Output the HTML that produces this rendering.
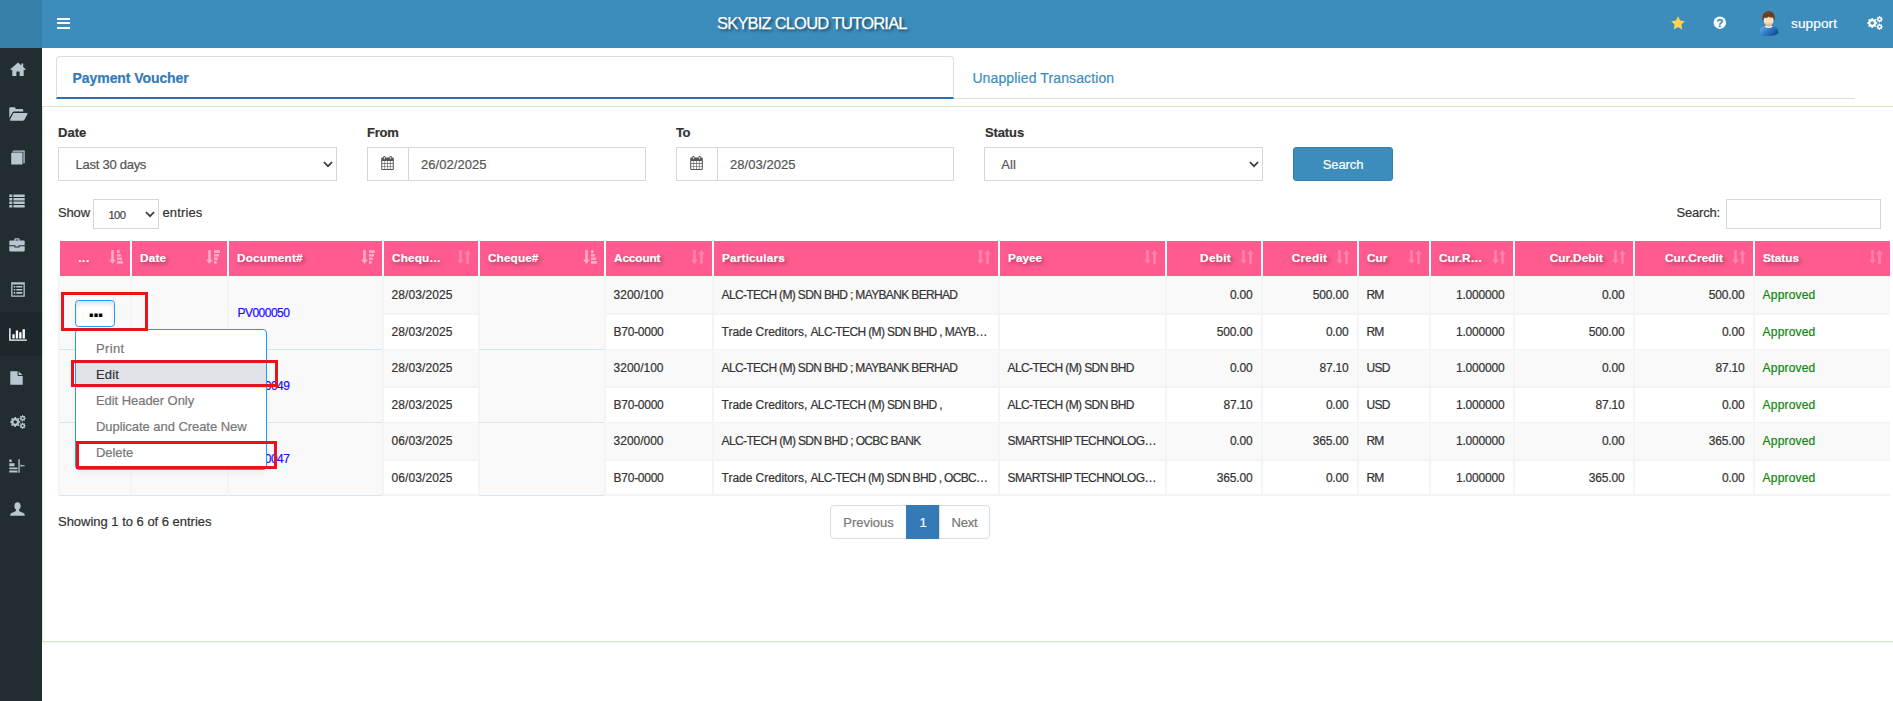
<!DOCTYPE html>
<html lang="en"><head><meta charset="utf-8"><title>Payment Voucher</title>
<style>
*{box-sizing:border-box}
html,body{margin:0;padding:0}
body{width:1893px;height:701px;overflow:hidden;background:#fff;font-family:"Liberation Sans",sans-serif;font-size:13px;color:#333;position:relative;-webkit-text-stroke:.2px currentColor}
.abs{position:absolute}
svg{display:block}
/* top bar */
.logo{position:absolute;left:0;top:0;width:42px;height:48px;background:#367fa9}
.navbar{position:absolute;left:42px;top:0;width:1851px;height:48px;background:#3c8dbc;color:#fff}
.burger{position:absolute;left:15px;top:18px;width:13px;height:11px}
.burger i{position:absolute;left:0;width:13px;height:2px;background:#fff;border-radius:.5px}
.title{position:absolute;left:675px;top:12px;-webkit-text-stroke:.25px #fff;font-size:16.5px;line-height:22px;white-space:nowrap;text-shadow:2px 2px 3px rgba(0,0,0,.55)}
.nav-r{position:absolute;top:0}
.uname{position:absolute;left:1749px;top:15px;font-size:13.6px;line-height:18px;white-space:nowrap}
/* sidebar */
.sidebar{position:absolute;left:0;top:48px;width:42px;height:653px;background:#222d32;margin:0;padding:0;list-style:none}
.sidebar .actbg{position:absolute;left:0;top:264px;width:42px;height:44px;background:#1e282c}
.sb-i{position:absolute;margin-top:-48px}
.sb-i svg{fill:#b8c7ce}
.sb-i.act svg{fill:#fff}
/* tabs */
.tabs{position:absolute;left:56px;top:56px;width:1799px;height:43px;border-bottom:1px solid #ddd;font-size:14px}
.tab1{position:absolute;left:0;top:0;width:898px;height:43px;border:1px solid #ddd;border-bottom:2px solid #2e6fb2;border-radius:4px 4px 0 0;background:#fff;color:#337ab7;font-weight:700}
.tab1 span.t{position:absolute;left:15.6px;top:12px;line-height:18px;white-space:nowrap}
.tab2{position:absolute;left:916.4px;top:12.9px;line-height:18px;color:#3c8dbc;white-space:nowrap}
/* panel */
.panel{position:absolute;left:42px;top:106px;width:1853px;height:536px;border:1px solid #d6e9c6;box-shadow:0 1px 1px rgba(0,0,0,.05)}
label{position:absolute;font-weight:700;font-size:13px;line-height:16px;color:#333;white-space:nowrap}
.fc{position:absolute;top:147px;height:34px;width:279px;border:1px solid #d2d6de;background:#fff;color:#555;font-size:13px}
.fc .v{position:absolute;top:8px;line-height:18px;white-space:nowrap}
.fc .chev{position:absolute;right:3.4px;top:12.6px}
.addon{position:absolute;left:0;top:0;width:41px;height:32px;border-right:1px solid #d2d6de}
.addon svg{position:absolute;left:12.8px;top:8.2px}
.btn-search{position:absolute;left:1293px;top:147px;width:100px;height:34px;background:#3c8dbc;border:1px solid #367fa9;border-radius:3px;color:#fff;font-size:13px;line-height:33.6px;text-align:center;padding:0;font-family:inherit}
.len{position:absolute;top:204px;line-height:18px;font-size:13px;white-space:nowrap}
.lensel{position:absolute;left:93px;top:199px;width:66px;height:30px;border:1px solid #d2d6de;background:#fff;font-size:11.2px;color:#444}
.lensel .v{position:absolute;left:14.4px;top:7.6px;line-height:14px}
.lensel .chev{position:absolute;right:3.4px;top:10.8px}
.filter{position:absolute;left:1726px;top:199px;width:155px;height:30px;border:1px solid #d2d6de;background:#fff}
/* table */
table.dt{position:absolute;left:58px;top:239px;border-collapse:separate;border-spacing:0;table-layout:fixed;width:1832px;font-size:12px}
table.dt th{height:38px;border-bottom:1px solid #f4f4f4 !important;background:#ff5b8f;background-clip:padding-box;border:2px solid #fff;border-right:0;border-bottom-width:0;color:#fff;font-weight:700;font-size:11.8px;text-align:left;padding:0 0 0 8px;position:relative;white-space:nowrap;text-shadow:2px 2px 4px rgba(0,0,0,.42);overflow:hidden}
table.dt th.r{text-align:right;padding-right:30px}
table.dt th .si{position:absolute;right:7.4px;top:9.1px}
table.dt th .ht{position:relative;top:-1px}
table.dt th.c{text-align:center;padding-right:30px}
table.dt td{height:35px;padding:0 8px 0 7.6px;border-bottom:1px solid #f4f4f4;border-left:2px solid #f4f4f4;vertical-align:middle;white-space:nowrap;overflow:hidden;color:#333;line-height:18px}
table.dt td.r{text-align:right;padding-right:8.6px}
table.dt tr.odd td{background:#f9f9f9;height:38px;border-bottom-width:2px}
table.dt tr.even td{background:#fff}
table.dt td.grp{background:#f9f9f9 !important;border-bottom:1px solid #cfe7fb !important}
table.dt tr:last-child td{border-bottom-width:2px}
table.dt td.ok{color:#0c860c}
a.doc{color:#1a0dff;font-size:12px;letter-spacing:-.5px;position:relative;top:.4px;left:.8px}
button.dots{position:relative;display:block;left:7px;top:.5px;width:40px;height:27px;border:1px solid #1e9bff;border-radius:3.5px;background:#fff;box-shadow:inset 0 3px 5px rgba(0,0,0,.125);padding:0;font-family:inherit;font-size:22px;line-height:14px;color:#000;overflow:hidden}
button.dots b{position:absolute;left:12.6px;top:2px;letter-spacing:-1.4px}
/* dropdown */
.dd{position:absolute;left:75px;top:329px;width:192px;height:141px;background:#fff;border:1px solid #1e9bff;border-radius:4px;font-size:13px;color:#777;margin:0;padding:0;list-style:none;box-shadow:0 3px 6px rgba(0,0,0,.04)}
.dd li{position:absolute;left:0;width:190px;height:26px;line-height:26px;padding-left:20px;white-space:nowrap}
.dd li.hov{background:#e1e3e9;color:#333}
.redbox{position:absolute;border:3px solid #e8141c;z-index:5}
/* footer */
.info{position:absolute;left:58px;top:512.7px;line-height:18px;font-size:13px;white-space:nowrap}
.pag{position:absolute;left:830px;top:505px;height:34px;display:flex;font-size:13px;color:#777;margin:0;padding:0;list-style:none}
.pag li{height:34px;line-height:33.6px;border:1px solid #ddd;background:#fff;text-align:center;white-space:nowrap}
.pag li.p{width:77px;border-radius:4px 0 0 4px}
.pag li.a{width:34px;background:#337ab7;border-color:#337ab7;color:#fff;margin-left:-1px}
.pag li.n{width:51px;border-radius:0 4px 4px 0;margin-left:-1px}
</style></head>
<body>
<div class="logo"></div>
<header class="navbar">
  <a class="burger"><i style="top:0"></i><i style="top:4.3px"></i><i style="top:8.6px"></i></a>
  <div class="title"><span style="letter-spacing:-0.805px;">SKYBIZ CLOUD TUTORIAL</span></div>
  <div class="nav-r" style="left:1628.5px;top:15.5px"><svg viewBox="0 0 14 14" width="14" height="14"><path fill="#ffd54f" d="M7 0.3 L9.1 4.6 L13.8 5.3 L10.4 8.6 L11.2 13.4 L7 11.1 L2.8 13.4 L3.6 8.6 L0.2 5.3 L4.9 4.6 Z"/></svg></div>
  <div class="nav-r" style="left:1671.4px;top:16.4px"><svg viewBox="0 0 13 13" width="13" height="13" style="overflow:visible"><circle cx="6.8" cy="6.7" r="6.25" fill="#fff"/><text x="7" y="10.9" text-anchor="middle" font-family="Liberation Sans, sans-serif" font-weight="700" font-size="11.2" fill="#3c8dbc" stroke="#3c8dbc" stroke-width=".3">?</text></svg></div>
  <div class="nav-r" style="left:1716.8px;top:10.6px"><svg viewBox="0 0 20 25" width="20" height="25"><defs><linearGradient id="sh" x1="0" y1="0" x2="1" y2="0.6"><stop offset="0" stop-color="#7db9ee"/><stop offset="0.45" stop-color="#3a86d0"/><stop offset="1" stop-color="#134f98"/></linearGradient><linearGradient id="fc" x1="0" y1="0" x2="0" y2="1"><stop offset="0" stop-color="#f3cfa2"/><stop offset="0.6" stop-color="#fae6cd"/><stop offset="1" stop-color="#e2ad7c"/></linearGradient></defs><ellipse cx="10" cy="24.2" rx="7" ry="0.7" fill="#1f4f80" opacity=".5"/><path fill="url(#sh)" d="M0.6 21.4 C0.6 17.4 3.5 15.2 6.6 14.9 L10 16.6 L13.4 14.9 C16.5 15.2 19.4 17.4 19.4 21.4 C19.4 23.4 15 24.4 10 24.4 C5 24.4 0.6 23.4 0.6 21.4 Z"/><path fill="#d9a06c" d="M7.2 12.4 H12 L12.6 15.4 L9.6 16.6 L6.6 15.4 Z"/><path fill="#fff" d="M5.8 15.3 L7 14.5 C8 16 11.4 16 12.4 14.5 L13.6 15.3 C12.6 17.6 6.8 17.6 5.8 15.3 Z"/><ellipse cx="9.6" cy="9.4" rx="4.9" ry="5.6" fill="url(#fc)"/><path fill="#6a3a1b" d="M3.9 10.6 C2.4 5.4 4.4 0.3 9.8 0.3 C14.8 0.3 16.6 4.8 15.3 10.6 C15.1 8.6 14.6 7 13.6 6.2 C12 7 10.6 6.4 9.8 5.4 C8.8 6.8 6.8 7 5.5 6.6 C4.6 7.6 4.2 8.8 3.9 10.6 Z"/><path fill="#8a5a33" opacity=".7" d="M6 3.2 C7.4 1.4 11 1 13 2.8 C11 2.2 8 2.4 6 3.2 Z"/></svg></div>
  <div class="uname"><span style="letter-spacing:0.108px;">support</span></div>
  <div class="nav-r" style="left:1824.8px;top:15.8px"><svg fill="#fff" viewBox="0 0 16 14" width="16" height="14"><path fill-rule="evenodd" d="M10.27 6.45 L10.27 7.55 L8.92 8.17 L8.66 8.80 L9.17 10.20 L8.40 10.97 L7.00 10.46 L6.37 10.72 L5.75 12.07 L4.65 12.07 L4.03 10.72 L3.40 10.46 L2.00 10.97 L1.23 10.20 L1.74 8.80 L1.48 8.17 L0.13 7.55 L0.13 6.45 L1.48 5.83 L1.74 5.20 L1.23 3.80 L2.00 3.03 L3.40 3.54 L4.03 3.28 L4.65 1.93 L5.75 1.93 L6.37 3.28 L7.00 3.54 L8.40 3.03 L9.17 3.80 L8.66 5.20 L8.92 5.83 Z M7.00 7.00 A1.8 1.8 0 1 0 3.40 7.00 A1.8 1.8 0 1 0 7.00 7.00 Z"/><path fill-rule="evenodd" d="M15.78 2.96 L15.78 3.64 L14.79 3.99 L14.64 4.36 L15.09 5.31 L14.61 5.79 L13.66 5.34 L13.29 5.49 L12.94 6.48 L12.26 6.48 L11.91 5.49 L11.54 5.34 L10.59 5.79 L10.11 5.31 L10.56 4.36 L10.41 3.99 L9.42 3.64 L9.42 2.96 L10.41 2.61 L10.56 2.24 L10.11 1.29 L10.59 0.81 L11.54 1.26 L11.91 1.11 L12.26 0.12 L12.94 0.12 L13.29 1.11 L13.66 1.26 L14.61 0.81 L15.09 1.29 L14.64 2.24 L14.79 2.61 Z M13.60 3.30 A1.0 1.0 0 1 0 11.60 3.30 A1.0 1.0 0 1 0 13.60 3.30 Z"/><path fill-rule="evenodd" d="M15.78 10.36 L15.78 11.04 L14.79 11.39 L14.64 11.76 L15.09 12.71 L14.61 13.19 L13.66 12.74 L13.29 12.89 L12.94 13.88 L12.26 13.88 L11.91 12.89 L11.54 12.74 L10.59 13.19 L10.11 12.71 L10.56 11.76 L10.41 11.39 L9.42 11.04 L9.42 10.36 L10.41 10.01 L10.56 9.64 L10.11 8.69 L10.59 8.21 L11.54 8.66 L11.91 8.51 L12.26 7.52 L12.94 7.52 L13.29 8.51 L13.66 8.66 L14.61 8.21 L15.09 8.69 L14.64 9.64 L14.79 10.01 Z M13.60 10.70 A1.0 1.0 0 1 0 11.60 10.70 A1.0 1.0 0 1 0 13.60 10.70 Z"/></svg></div>
</header>
<ul class="sidebar"><li class="actbg"></li>
<li class="sb-i" style="left:9.6px;top:61.5px"><svg viewBox="0 0 16 15" width="16" height="15"><path d="M8 0.6 L0.3 7.3 L1.2 8.3 L2.3 7.4 V14 H6.4 V9.6 H9.6 V14 H13.7 V7.4 L14.8 8.3 L15.7 7.3 L13.2 5.1 V1.6 H11.4 V3.5 Z"/></svg></li>
<li class="sb-i" style="left:9.4px;top:106.6px"><svg viewBox="0 0 19 14" width="19" height="14"><path d="M0.3 1.6 Q0.3 0.3 1.6 0.3 H5.3 Q6.4 0.3 6.6 1.4 L6.8 2.1 H13 Q14.3 2.1 14.3 3.4 V4.6 H5.2 Q3.9 4.6 3.3 5.8 L0.3 11.2 Z"/><path d="M4.9 6 H18 Q19 6 18.4 7 L15.6 12.6 Q15.1 13.7 13.9 13.7 H1.6 Q0.6 13.7 1.1 12.8 L3.9 7 Q4.3 6 4.9 6 Z"/></svg></li>
<li class="sb-i" style="left:10.6px;top:149.5px"><svg viewBox="0 0 14 15" width="14" height="15"><path d="M2.4 0.5 H13.7 V13.2 H12.4 V1.7 H1.2 Z"/><path d="M0.2 3.3 L1.3 2.5 H11.5 V14.6 H0.2 Z"/></svg></li>
<li class="sb-i" style="left:9.3px;top:194.4px"><svg viewBox="0 0 16 14" width="16" height="14"><path d="M0.3 0.4h3v2.6h-3z M4.4 0.4h11.3v2.6H4.4z M0.3 3.9h3v2.6h-3z M4.4 3.9h11.3v2.6H4.4z M0.3 7.4h3v2.6h-3z M4.4 7.4h11.3v2.6H4.4z M0.3 10.9h3v2.6h-3z M4.4 10.9h11.3v2.6H4.4z"/></svg></li>
<li class="sb-i" style="left:9.3px;top:237.6px"><svg viewBox="0 0 16 14" width="16" height="14"><path fill-rule="evenodd" d="M5.4 2.4 V1.2 Q5.4 0.3 6.3 0.3 H9.7 Q10.6 0.3 10.6 1.2 V2.4 H14.6 Q15.7 2.4 15.7 3.5 V7.2 H9.6 V8.4 H6.4 V7.2 H0.3 V3.5 Q0.3 2.4 1.4 2.4 Z M6.6 2.4 H9.4 V1.5 H6.6 Z"/><path d="M0.3 8.2 H5.4 V9.5 H10.6 V8.2 H15.7 V12.4 Q15.7 13.5 14.6 13.5 H1.4 Q0.3 13.5 0.3 12.4 Z"/></svg></li>
<li class="sb-i" style="left:10.6px;top:281.5px"><svg viewBox="0 0 14 15" width="14" height="15"><path fill-rule="evenodd" d="M0.2 0.3 H13.8 V14.7 H0.2 Z M1.5 2.4 V13.4 H12.5 V2.4 Z"/><path d="M2.7 3.9h1.6v1.6H2.7z M5.3 3.9h6v1.6h-6z M2.7 7h1.6v1.6H2.7z M5.3 7h6v1.6h-6z M2.7 10.1h1.6v1.6H2.7z M5.3 10.1h6v1.6h-6z"/></svg></li>
<li class="sb-i act" style="left:9px;top:327.5px"><svg viewBox="0 0 18 13" width="18" height="13"><path d="M0.2 0.2 H1.6 V11.4 H17.8 V12.8 H0.2 Z"/><path d="M3.4 6.2h2.3v4.2H3.4z M6.8 2.6h2.3v7.8H6.8z M10.2 4.3h2.3v6.1h-2.3z M13.6 1.2h2.3v9.2h-2.3z"/></svg></li>
<li class="sb-i" style="left:9.8px;top:371.0px"><svg viewBox="0 0 13 14" width="13" height="14"><path d="M0.3 0.3 H7.6 V4.2 Q7.6 5 8.4 5 H12.7 V13.7 H0.3 Z"/><path d="M8.6 0.4 L12.6 4 H8.6 Z"/></svg></li>
<li class="sb-i" style="left:9.6px;top:414.8px"><svg viewBox="0 0 16 14" width="16" height="14"><path fill-rule="evenodd" d="M10.27 6.45 L10.27 7.55 L8.92 8.17 L8.66 8.80 L9.17 10.20 L8.40 10.97 L7.00 10.46 L6.37 10.72 L5.75 12.07 L4.65 12.07 L4.03 10.72 L3.40 10.46 L2.00 10.97 L1.23 10.20 L1.74 8.80 L1.48 8.17 L0.13 7.55 L0.13 6.45 L1.48 5.83 L1.74 5.20 L1.23 3.80 L2.00 3.03 L3.40 3.54 L4.03 3.28 L4.65 1.93 L5.75 1.93 L6.37 3.28 L7.00 3.54 L8.40 3.03 L9.17 3.80 L8.66 5.20 L8.92 5.83 Z M7.00 7.00 A1.8 1.8 0 1 0 3.40 7.00 A1.8 1.8 0 1 0 7.00 7.00 Z"/><path fill-rule="evenodd" d="M15.78 2.96 L15.78 3.64 L14.79 3.99 L14.64 4.36 L15.09 5.31 L14.61 5.79 L13.66 5.34 L13.29 5.49 L12.94 6.48 L12.26 6.48 L11.91 5.49 L11.54 5.34 L10.59 5.79 L10.11 5.31 L10.56 4.36 L10.41 3.99 L9.42 3.64 L9.42 2.96 L10.41 2.61 L10.56 2.24 L10.11 1.29 L10.59 0.81 L11.54 1.26 L11.91 1.11 L12.26 0.12 L12.94 0.12 L13.29 1.11 L13.66 1.26 L14.61 0.81 L15.09 1.29 L14.64 2.24 L14.79 2.61 Z M13.60 3.30 A1.0 1.0 0 1 0 11.60 3.30 A1.0 1.0 0 1 0 13.60 3.30 Z"/><path fill-rule="evenodd" d="M15.78 10.36 L15.78 11.04 L14.79 11.39 L14.64 11.76 L15.09 12.71 L14.61 13.19 L13.66 12.74 L13.29 12.89 L12.94 13.88 L12.26 13.88 L11.91 12.89 L11.54 12.74 L10.59 13.19 L10.11 12.71 L10.56 11.76 L10.41 11.39 L9.42 11.04 L9.42 10.36 L10.41 10.01 L10.56 9.64 L10.11 8.69 L10.59 8.21 L11.54 8.66 L11.91 8.51 L12.26 7.52 L12.94 7.52 L13.29 8.51 L13.66 8.66 L14.61 8.21 L15.09 8.69 L14.64 9.64 L14.79 10.01 Z M13.60 10.70 A1.0 1.0 0 1 0 11.60 10.70 A1.0 1.0 0 1 0 13.60 10.70 Z"/></svg></li>
<li class="sb-i" style="left:9.4px;top:458.6px"><svg viewBox="0 0 16 14" width="16" height="14"><path d="M0.3 0.6h2.4v2.4H0.3z M0.3 4.2h5.2v3H0.3z M0.3 8.6h8.2v1.6H0.3z M0.3 11.6h8.2v1.8H0.3z M9.4 0.2h1.3v13.6H9.4z M11.4 6.3h4.3v0.9h-4.3z M12.6 5.2v3.1l-1.6-1.55z"/></svg></li>
<li class="sb-i" style="left:9.6px;top:501.8px"><svg viewBox="0 0 15 14" width="15" height="14"><path d="M7.5 0.2 C9.6 0.2 10.6 1.8 10.6 3.9 C10.6 5.6 9.9 7 9 7.7 V8.5 C9 9 9.3 9.2 10 9.5 L13.4 10.9 C14.4 11.4 14.8 12.2 14.8 13.8 H0.2 C0.2 12.2 0.6 11.4 1.6 10.9 L5 9.5 C5.7 9.2 6 9 6 8.5 V7.7 C5.1 7 4.4 5.6 4.4 3.9 C4.4 1.8 5.4 0.2 7.5 0.2 Z"/></svg></li>
</ul>

<div class="tabs">
  <div class="tab1"><span class="t"><span style="letter-spacing:-0.076px;">Payment Voucher</span></span></div>
  <div class="tab2"><span style="letter-spacing:0.123px;">Unapplied Transaction</span></div>
</div>
<section class="panel"></section>

<label style="left:58px;top:125px"><span style="letter-spacing:0.028px;">Date</span></label>
<label style="left:367px;top:125px"><span style="letter-spacing:-0.250px;">From</span></label>
<label style="left:676px;top:125px"><span style="letter-spacing:-0.461px;">To</span></label>
<label style="left:985px;top:125px"><span style="letter-spacing:-0.122px;">Status</span></label>
<div class="fc" style="left:58px"><span class="v" style="left:16.6px"><span style="letter-spacing:-0.268px;">Last 30 days</span></span><span class="chev"><svg viewBox="0 0 10 7" width="10" height="7"><path fill="none" stroke="#3a3a3a" stroke-width="1.7" d="M0.9 1 L5 5.2 L9.1 1"/></svg></span></div>
<div class="fc" style="left:367px"><span class="addon"><svg viewBox="0 0 13 14" width="13" height="14"><path fill-rule="evenodd" fill="#555" d="M0.2 2.6 Q0.2 1.6 1.2 1.6 H2.2 V1 Q2.2 0.1 3.1 0.1 H3.5 Q4.4 0.1 4.4 1 V1.6 H8.6 V1 Q8.6 0.1 9.5 0.1 H9.9 Q10.8 0.1 10.8 1 V1.6 H11.8 Q12.8 1.6 12.8 2.6 V12.9 Q12.8 13.9 11.8 13.9 H1.2 Q0.2 13.9 0.2 12.9 Z M1.2 5 V7.1 H3.5 V5 Z M4.1 5 V7.1 H6.2 V5 Z M6.8 5 V7.1 H8.9 V5 Z M9.5 5 V7.1 H11.8 V5 Z M1.2 7.7 V10 H3.5 V7.7 Z M4.1 7.7 V10 H6.2 V7.7 Z M6.8 7.7 V10 H8.9 V7.7 Z M9.5 7.7 V10 H11.8 V7.7 Z M1.2 10.6 V12.9 H3.5 V10.6 Z M4.1 10.6 V12.9 H6.2 V10.6 Z M6.8 10.6 V12.9 H8.9 V10.6 Z M9.5 10.6 V12.9 H11.8 V10.6 Z M2.9 0.9 V3.3 H3.7 V0.9 Z M9.3 0.9 V3.3 H10.1 V0.9 Z"/></svg></span><span class="v" style="left:53px"><span style="letter-spacing:0.042px;">26/02/2025</span></span></div>
<div class="fc" style="left:676px;width:278px"><span class="addon"><svg viewBox="0 0 13 14" width="13" height="14"><path fill-rule="evenodd" fill="#555" d="M0.2 2.6 Q0.2 1.6 1.2 1.6 H2.2 V1 Q2.2 0.1 3.1 0.1 H3.5 Q4.4 0.1 4.4 1 V1.6 H8.6 V1 Q8.6 0.1 9.5 0.1 H9.9 Q10.8 0.1 10.8 1 V1.6 H11.8 Q12.8 1.6 12.8 2.6 V12.9 Q12.8 13.9 11.8 13.9 H1.2 Q0.2 13.9 0.2 12.9 Z M1.2 5 V7.1 H3.5 V5 Z M4.1 5 V7.1 H6.2 V5 Z M6.8 5 V7.1 H8.9 V5 Z M9.5 5 V7.1 H11.8 V5 Z M1.2 7.7 V10 H3.5 V7.7 Z M4.1 7.7 V10 H6.2 V7.7 Z M6.8 7.7 V10 H8.9 V7.7 Z M9.5 7.7 V10 H11.8 V7.7 Z M1.2 10.6 V12.9 H3.5 V10.6 Z M4.1 10.6 V12.9 H6.2 V10.6 Z M6.8 10.6 V12.9 H8.9 V10.6 Z M9.5 10.6 V12.9 H11.8 V10.6 Z M2.9 0.9 V3.3 H3.7 V0.9 Z M9.3 0.9 V3.3 H10.1 V0.9 Z"/></svg></span><span class="v" style="left:53px"><span style="letter-spacing:0.042px;">28/03/2025</span></span></div>
<div class="fc" style="left:984px"><span class="v" style="left:16.2px"><span style="letter-spacing:0.182px;">All</span></span><span class="chev"><svg viewBox="0 0 10 7" width="10" height="7"><path fill="none" stroke="#3a3a3a" stroke-width="1.7" d="M0.9 1 L5 5.2 L9.1 1"/></svg></span></div>
<button class="btn-search" type="button"><span style="letter-spacing:-0.117px;">Search</span></button>

<div class="len" style="left:58px"><span style="letter-spacing:-0.158px;">Show</span></div>
<div class="lensel"><span class="v"><span style="letter-spacing:-0.524px;">100</span></span><span class="chev"><svg viewBox="0 0 10 7" width="10" height="7"><path fill="none" stroke="#3a3a3a" stroke-width="1.7" d="M0.9 1 L5 5.2 L9.1 1"/></svg></span></div>
<div class="len" style="left:162.5px"><span style="letter-spacing:0.138px;">entries</span></div>
<div class="len" style="left:1676.6px"><span style="letter-spacing:-0.216px;">Search:</span></div>
<div class="filter"></div>

<table class="dt"><colgroup><col style="width:72px"><col style="width:97px"><col style="width:155px"><col style="width:96px"><col style="width:126px"><col style="width:108px"><col style="width:286px"><col style="width:167px"><col style="width:96px"><col style="width:96px"><col style="width:72px"><col style="width:84px"><col style="width:120px"><col style="width:120px"><col style="width:137px"></colgroup>
<thead><tr><th class="c"><span style="letter-spacing:0.552px;position:relative;top:-1px">...</span><svg class="si" style="opacity:.5" viewBox="0 0 14 14" width="14" height="14"><path fill="#fff" d="M2.2 0.3h2.6v9.4h2.1L3.5 13.7 0.1 9.7h2.1z M8 0.3h2.6v2.6H8z M8 3.9h3.8v2.6H8z M8 7.5h5v2.6H8z M8 11.1h5.9v2.6H8z"/></svg></th><th class=""><span style="letter-spacing:0.155px;position:relative;top:-1px">Date</span><svg class="si" style="opacity:.5" viewBox="0 0 14 14" width="14" height="14"><path fill="#fff" d="M2.2 0.3h2.6v9.4h2.1L3.5 13.7 0.1 9.7h2.1z M8 0.3h5.9v2.6H8z M8 3.9h5v2.6H8z M8 7.5h3.8v2.6H8z M8 11.1h2.6v2.6H8z"/></svg></th><th class=""><span style="letter-spacing:0.172px;position:relative;top:-1px">Document#</span><svg class="si" style="opacity:.5" viewBox="0 0 14 14" width="14" height="14"><path fill="#fff" d="M2.2 0.3h2.6v9.4h2.1L3.5 13.7 0.1 9.7h2.1z M8 0.3h5.9v2.6H8z M8 3.9h5v2.6H8z M8 7.5h3.8v2.6H8z M8 11.1h2.6v2.6H8z"/></svg></th><th class=""><span style="letter-spacing:0.117px;position:relative;top:-1px">Chequ…</span><svg class="si" style="opacity:.25" viewBox="0 0 14 14" width="14" height="14"><path fill="#fff" d="M2.2 0.3h2.6v9.4h2.1L3.5 13.7 0.1 9.7h2.1z M9.2 13.7h2.6V4.3h2.1L10.5 0.3 7.1 4.3h2.1z"/></svg></th><th class=""><span style="letter-spacing:0.096px;position:relative;top:-1px">Cheque#</span><svg class="si" style="opacity:.5" viewBox="0 0 14 14" width="14" height="14"><path fill="#fff" d="M2.2 0.3h2.6v9.4h2.1L3.5 13.7 0.1 9.7h2.1z M8 0.3h2.6v2.6H8z M8 3.9h3.8v2.6H8z M8 7.5h5v2.6H8z M8 11.1h5.9v2.6H8z"/></svg></th><th class=""><span style="letter-spacing:-0.115px;position:relative;top:-1px">Account</span><svg class="si" style="opacity:.25" viewBox="0 0 14 14" width="14" height="14"><path fill="#fff" d="M2.2 0.3h2.6v9.4h2.1L3.5 13.7 0.1 9.7h2.1z M9.2 13.7h2.6V4.3h2.1L10.5 0.3 7.1 4.3h2.1z"/></svg></th><th class=""><span style="letter-spacing:0.174px;position:relative;top:-1px">Particulars</span><svg class="si" style="opacity:.25" viewBox="0 0 14 14" width="14" height="14"><path fill="#fff" d="M2.2 0.3h2.6v9.4h2.1L3.5 13.7 0.1 9.7h2.1z M9.2 13.7h2.6V4.3h2.1L10.5 0.3 7.1 4.3h2.1z"/></svg></th><th class=""><span style="letter-spacing:0.015px;position:relative;top:-1px">Payee</span><svg class="si" style="opacity:.25" viewBox="0 0 14 14" width="14" height="14"><path fill="#fff" d="M2.2 0.3h2.6v9.4h2.1L3.5 13.7 0.1 9.7h2.1z M9.2 13.7h2.6V4.3h2.1L10.5 0.3 7.1 4.3h2.1z"/></svg></th><th class="r"><span style="letter-spacing:0.280px;position:relative;top:-1px">Debit</span><svg class="si" style="opacity:.25" viewBox="0 0 14 14" width="14" height="14"><path fill="#fff" d="M2.2 0.3h2.6v9.4h2.1L3.5 13.7 0.1 9.7h2.1z M9.2 13.7h2.6V4.3h2.1L10.5 0.3 7.1 4.3h2.1z"/></svg></th><th class="r"><span style="letter-spacing:0.184px;position:relative;top:-1px">Credit</span><svg class="si" style="opacity:.25" viewBox="0 0 14 14" width="14" height="14"><path fill="#fff" d="M2.2 0.3h2.6v9.4h2.1L3.5 13.7 0.1 9.7h2.1z M9.2 13.7h2.6V4.3h2.1L10.5 0.3 7.1 4.3h2.1z"/></svg></th><th class=""><span style="letter-spacing:-0.043px;position:relative;top:-1px">Cur</span><svg class="si" style="opacity:.25" viewBox="0 0 14 14" width="14" height="14"><path fill="#fff" d="M2.2 0.3h2.6v9.4h2.1L3.5 13.7 0.1 9.7h2.1z M9.2 13.7h2.6V4.3h2.1L10.5 0.3 7.1 4.3h2.1z"/></svg></th><th class=""><span style="letter-spacing:0.022px;position:relative;top:-1px">Cur.R…</span><svg class="si" style="opacity:.25" viewBox="0 0 14 14" width="14" height="14"><path fill="#fff" d="M2.2 0.3h2.6v9.4h2.1L3.5 13.7 0.1 9.7h2.1z M9.2 13.7h2.6V4.3h2.1L10.5 0.3 7.1 4.3h2.1z"/></svg></th><th class="r"><span style="letter-spacing:0.096px;position:relative;top:-1px">Cur.Debit</span><svg class="si" style="opacity:.25" viewBox="0 0 14 14" width="14" height="14"><path fill="#fff" d="M2.2 0.3h2.6v9.4h2.1L3.5 13.7 0.1 9.7h2.1z M9.2 13.7h2.6V4.3h2.1L10.5 0.3 7.1 4.3h2.1z"/></svg></th><th class="r"><span style="letter-spacing:0.097px;position:relative;top:-1px">Cur.Credit</span><svg class="si" style="opacity:.25" viewBox="0 0 14 14" width="14" height="14"><path fill="#fff" d="M2.2 0.3h2.6v9.4h2.1L3.5 13.7 0.1 9.7h2.1z M9.2 13.7h2.6V4.3h2.1L10.5 0.3 7.1 4.3h2.1z"/></svg></th><th class=""><span style="letter-spacing:-0.010px;position:relative;top:-1px">Status</span><svg class="si" style="opacity:.25" viewBox="0 0 14 14" width="14" height="14"><path fill="#fff" d="M2.2 0.3h2.6v9.4h2.1L3.5 13.7 0.1 9.7h2.1z M9.2 13.7h2.6V4.3h2.1L10.5 0.3 7.1 4.3h2.1z"/></svg></th></tr></thead>
<tbody>
<tr class="odd"><td rowspan="2" class="grp"><button class="dots" type="button"><b>...</b></button></td><td rowspan="2" class="grp"></td><td rowspan="2" class="grp"><a class="doc">PV000050</a></td><td><span style="letter-spacing:0.074px;">28/03/2025</span></td><td rowspan="2" class="grp"></td><td><span style="letter-spacing:-0.020px;">3200/100</span></td><td><span style="letter-spacing:-0.649px;">ALC-TECH (M) SDN BHD ; MAYBANK BERHAD</span></td><td></td><td class="r"><span style="letter-spacing:-0.215px;">0.00</span></td><td class="r"><span style="letter-spacing:-0.167px;">500.00</span></td><td><span style="letter-spacing:-1.086px;">RM</span></td><td class="r"><span style="letter-spacing:-0.208px;">1.000000</span></td><td class="r"><span style="letter-spacing:-0.215px;">0.00</span></td><td class="r"><span style="letter-spacing:-0.167px;">500.00</span></td><td class="ok"><span style="letter-spacing:0.178px;">Approved</span></td></tr>
<tr class="even"><td><span style="letter-spacing:0.074px;">28/03/2025</span></td><td><span style="letter-spacing:-0.268px;">B70-0000</span></td><td><span style="letter-spacing:-0.041px">Trade Creditors, </span><span style="letter-spacing:-0.625px">ALC-TECH (M) SDN BHD , MAYB…</span></td><td></td><td class="r"><span style="letter-spacing:-0.167px;">500.00</span></td><td class="r"><span style="letter-spacing:-0.215px;">0.00</span></td><td><span style="letter-spacing:-1.086px;">RM</span></td><td class="r"><span style="letter-spacing:-0.208px;">1.000000</span></td><td class="r"><span style="letter-spacing:-0.167px;">500.00</span></td><td class="r"><span style="letter-spacing:-0.215px;">0.00</span></td><td class="ok"><span style="letter-spacing:0.178px;">Approved</span></td></tr>
<tr class="odd"><td rowspan="2" class="grp"></td><td rowspan="2" class="grp"></td><td rowspan="2" class="grp"><a class="doc">PV000049</a></td><td><span style="letter-spacing:0.074px;">28/03/2025</span></td><td rowspan="2" class="grp"></td><td><span style="letter-spacing:-0.020px;">3200/100</span></td><td><span style="letter-spacing:-0.649px;">ALC-TECH (M) SDN BHD ; MAYBANK BERHAD</span></td><td><span style="letter-spacing:-0.619px;">ALC-TECH (M) SDN BHD</span></td><td class="r"><span style="letter-spacing:-0.215px;">0.00</span></td><td class="r"><span style="letter-spacing:-0.226px;">87.10</span></td><td><span style="letter-spacing:-0.715px;">USD</span></td><td class="r"><span style="letter-spacing:-0.208px;">1.000000</span></td><td class="r"><span style="letter-spacing:-0.215px;">0.00</span></td><td class="r"><span style="letter-spacing:-0.226px;">87.10</span></td><td class="ok"><span style="letter-spacing:0.178px;">Approved</span></td></tr>
<tr class="even"><td><span style="letter-spacing:0.074px;">28/03/2025</span></td><td><span style="letter-spacing:-0.268px;">B70-0000</span></td><td><span style="letter-spacing:-0.041px">Trade Creditors, </span><span style="letter-spacing:-0.634px">ALC-TECH (M) SDN BHD ,</span></td><td><span style="letter-spacing:-0.619px;">ALC-TECH (M) SDN BHD</span></td><td class="r"><span style="letter-spacing:-0.226px;">87.10</span></td><td class="r"><span style="letter-spacing:-0.215px;">0.00</span></td><td><span style="letter-spacing:-0.715px;">USD</span></td><td class="r"><span style="letter-spacing:-0.208px;">1.000000</span></td><td class="r"><span style="letter-spacing:-0.226px;">87.10</span></td><td class="r"><span style="letter-spacing:-0.215px;">0.00</span></td><td class="ok"><span style="letter-spacing:0.178px;">Approved</span></td></tr>
<tr class="odd"><td rowspan="2" class="grp"></td><td rowspan="2" class="grp"></td><td rowspan="2" class="grp"><a class="doc">PV000047</a></td><td><span style="letter-spacing:0.074px;">06/03/2025</span></td><td rowspan="2" class="grp"></td><td><span style="letter-spacing:-0.020px;">3200/000</span></td><td><span style="letter-spacing:-0.636px;">ALC-TECH (M) SDN BHD ; OCBC BANK</span></td><td><span style="letter-spacing:-0.625px;">SMARTSHIP TECHNOLOG…</span></td><td class="r"><span style="letter-spacing:-0.215px;">0.00</span></td><td class="r"><span style="letter-spacing:-0.167px;">365.00</span></td><td><span style="letter-spacing:-1.086px;">RM</span></td><td class="r"><span style="letter-spacing:-0.208px;">1.000000</span></td><td class="r"><span style="letter-spacing:-0.215px;">0.00</span></td><td class="r"><span style="letter-spacing:-0.167px;">365.00</span></td><td class="ok"><span style="letter-spacing:0.178px;">Approved</span></td></tr>
<tr class="even"><td><span style="letter-spacing:0.074px;">06/03/2025</span></td><td><span style="letter-spacing:-0.268px;">B70-0000</span></td><td><span style="letter-spacing:-0.041px">Trade Creditors, </span><span style="letter-spacing:-0.659px">ALC-TECH (M) SDN BHD , OCBC…</span></td><td><span style="letter-spacing:-0.625px;">SMARTSHIP TECHNOLOG…</span></td><td class="r"><span style="letter-spacing:-0.167px;">365.00</span></td><td class="r"><span style="letter-spacing:-0.215px;">0.00</span></td><td><span style="letter-spacing:-1.086px;">RM</span></td><td class="r"><span style="letter-spacing:-0.208px;">1.000000</span></td><td class="r"><span style="letter-spacing:-0.167px;">365.00</span></td><td class="r"><span style="letter-spacing:-0.215px;">0.00</span></td><td class="ok"><span style="letter-spacing:0.178px;">Approved</span></td></tr>
</tbody></table>

<div class="redbox" style="left:61px;top:292px;width:87px;height:39px"></div>
<ul class="dd">
  <li style="top:6px"><span style="letter-spacing:0.353px;">Print</span></li>
  <li class="hov" style="top:32px"><span style="letter-spacing:0.148px;">Edit</span></li>
  <li style="top:58px"><span style="letter-spacing:-0.056px;">Edit Header Only</span></li>
  <li style="top:84px"><span style="letter-spacing:-0.052px;">Duplicate and Create New</span></li>
  <li style="top:110px"><span style="letter-spacing:-0.063px;">Delete</span></li>
</ul>
<div class="redbox" style="left:71px;top:360px;width:207px;height:27px"></div>
<div class="redbox" style="left:75.5px;top:440.5px;width:201.5px;height:28px"></div>

<div class="info"><span style="letter-spacing:-0.016px;">Showing 1 to 6 of 6 entries</span></div>
<ul class="pag"><li class="p"><span style="letter-spacing:-0.010px;">Previous</span></li><li class="a">1</li><li class="n"><span style="letter-spacing:-0.234px;">Next</span></li></ul>
</body></html>
